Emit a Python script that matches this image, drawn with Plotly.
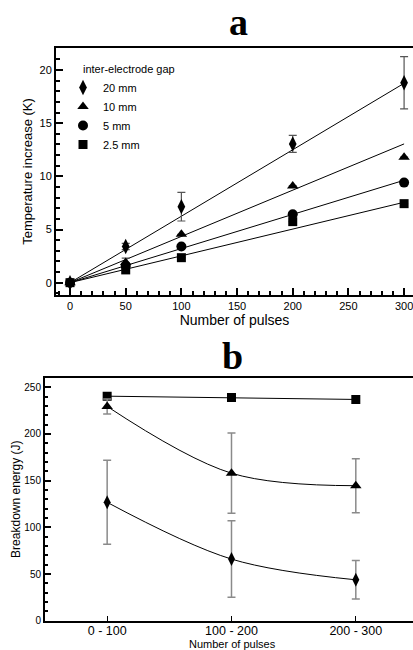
import plotly.graph_objects as go

# ---------------- Panel a data ----------------
pulses = [0, 50, 100, 200, 300]
gap_labels = ["20 mm", "10 mm", "5 mm", "2.5 mm"]
temp_20mm = [0, 3.4, 7.15, 13.05, 18.8]
temp_20mm_err = [0, 0.3, 1.35, 0.8, 2.45]
temp_10mm = [0, 1.9, 4.55, 9.1, 11.8]
temp_10mm_err = [0, 0.4, 0, 0, 0]
temp_5mm = [0, 1.6, 3.4, 6.43, 9.41]
temp_5mm_err = [0, 0, 0, 0, 0]
temp_2p5mm = [0, 1.2, 2.35, 5.74, 7.43]
temp_2p5mm_err = [0, 0, 0, 0, 0]
# linear fit slopes (K per pulse)
fit_slopes = [0.0625, 0.0435, 0.0321, 0.0252]
fit_x = [0, 300]

# ---------------- Panel b data ----------------
ranges = ["0 - 100", "100 - 200", "200 - 300"]
energy_square = [240.5, 239, 237]
energy_triangle = [229.5, 158, 144.6]
energy_triangle_err = [8, 43, 29]
energy_diamond = [126.8, 66, 43.8]
energy_diamond_err = [45, 41, 20.6]

symbols = ["diamond-tall", "triangle-up", "circle", "square"]
sizes = [11, 10, 10, 9]
FONT = "Liberation Sans, Arial, Helvetica, sans-serif"
SERIF = "Liberation Serif, Times New Roman, serif"

fig = go.Figure()

series_a = [(temp_20mm, temp_20mm_err), (temp_10mm, temp_10mm_err),
            (temp_5mm, temp_5mm_err), (temp_2p5mm, temp_2p5mm_err)]

# fit lines
for slope in fit_slopes:
    fig.add_trace(go.Scatter(
        x=fit_x, y=[slope * v for v in fit_x], mode="lines",
        line=dict(color="black", width=1), showlegend=False,
        hoverinfo="skip", xaxis="x", yaxis="y"))

for (vals, err), lab, sym, sz in zip(series_a, gap_labels, symbols, sizes):
    fig.add_trace(go.Scatter(
        x=pulses, y=vals, mode="markers", name=lab,
        marker=dict(symbol=sym, size=sz, color="black"),
        error_y=dict(type="data", array=err, visible=True, color="#555555",
                     thickness=1.2, width=4),
        xaxis="x", yaxis="y"))

# panel b
idx = list(range(len(ranges)))
fig.add_trace(go.Scatter(
    x=idx, y=energy_square, mode="lines+markers", showlegend=False,
    line=dict(color="black", width=1),
    marker=dict(symbol="square", size=9, color="black"),
    xaxis="x2", yaxis="y2"))
fig.add_trace(go.Scatter(
    x=idx, y=energy_triangle, mode="lines+markers", showlegend=False,
    line=dict(color="black", width=1, shape="spline", smoothing=1.0),
    marker=dict(symbol="triangle-up", size=10, color="black"),
    error_y=dict(type="data", array=energy_triangle_err, visible=True,
                 color="#8a8a8a", thickness=1.5, width=4),
    xaxis="x2", yaxis="y2"))
fig.add_trace(go.Scatter(
    x=idx, y=energy_diamond, mode="lines+markers", showlegend=False,
    line=dict(color="black", width=1, shape="spline", smoothing=1.0),
    marker=dict(symbol="diamond-tall", size=10, color="black"),
    error_y=dict(type="data", array=energy_diamond_err, visible=True,
                 color="#8a8a8a", thickness=1.5, width=4),
    xaxis="x2", yaxis="y2"))

axis_common = dict(showline=True, linecolor="black", linewidth=2,
                   ticks="inside", tickcolor="black", showgrid=False,
                   zeroline=False, automargin=False, ticklabeloverflow="allow")

fig.update_layout(
    width=413, height=650,
    margin=dict(l=0, r=0, t=0, b=0),
    paper_bgcolor="white", plot_bgcolor="white",
    font=dict(family=FONT, color="black"),
    xaxis=dict(**axis_common, domain=[56 / 413, 1.0], anchor="y",
               range=[-12.6, 308], tickvals=[0, 50, 100, 150, 200, 250, 300],
               ticklen=7, tickwidth=1.5, mirror=True,
               minor=dict(ticks="inside", dtick=10, ticklen=4, tickcolor="black"),
               tickfont=dict(size=11),
               title=dict(text="Number of pulses", font=dict(size=14), standoff=4)),
    yaxis=dict(**axis_common, domain=[1 - 295 / 650, 1 - 48 / 650], anchor="x",
               range=[-1.16, 22.07], tickvals=[0, 5, 10, 15, 20],
               ticklen=7, tickwidth=1.5,
               minor=dict(ticks="inside", dtick=1, ticklen=4, tickcolor="black"),
               tickfont=dict(size=11),
               title=dict(text="Temperature increase (K)", font=dict(size=13), standoff=4)),
    xaxis2=dict(**axis_common, domain=[45 / 413, 1.0], anchor="y2",
                range=[-0.5, 2.46], tickvals=idx, ticktext=ranges,
                ticklen=5, tickwidth=1, mirror=True, ticklabelstandoff=-3,
                tickfont=dict(size=12.5)),
    yaxis2=dict(**axis_common, domain=[1 - 620.7 / 650, 1 - 377.7 / 650], anchor="x2",
                range=[0, 260.3], tickvals=[0, 50, 100, 150, 200, 250],
                ticklen=6, tickwidth=1.5,
                minor=dict(ticks="inside", dtick=10, ticklen=3, tickcolor="black"),
                tickfont=dict(size=10),
                title=dict(text="Breakdown energy (J)", font=dict(size=12), standoff=1)),
    legend=dict(x=63 / 413, y=1 - 73 / 650, xanchor="left", yanchor="top",
                bgcolor="rgba(0,0,0,0)", font=dict(size=11),
                itemwidth=30, tracegroupgap=0),
    showlegend=True,
    annotations=[
        dict(text="inter-electrode gap", x=81 / 413, y=1 - 69 / 650,
             xref="paper", yref="paper", showarrow=False,
             xanchor="left", yanchor="middle", font=dict(size=11)),
        dict(text="Number of pulses", x=232 / 413, y=1 - 644 / 650,
             xref="paper", yref="paper", showarrow=False,
             xanchor="center", yanchor="middle", font=dict(size=11)),
        dict(text="a", x=238 / 413, y=1 - 22 / 650, xref="paper", yref="paper",
             showarrow=False, xanchor="center", yanchor="middle",
             font=dict(family=SERIF, size=38, color="black", weight="bold")),
        dict(text="b", x=232 / 413, y=1 - 356 / 650, xref="paper", yref="paper",
             showarrow=False, xanchor="center", yanchor="middle",
             font=dict(family=SERIF, size=38, color="black", weight="bold")),
    ],
)

fig.write_html("out.html", post_script="document.body.style.margin='0';",
               config={"displayModeBar": False})
